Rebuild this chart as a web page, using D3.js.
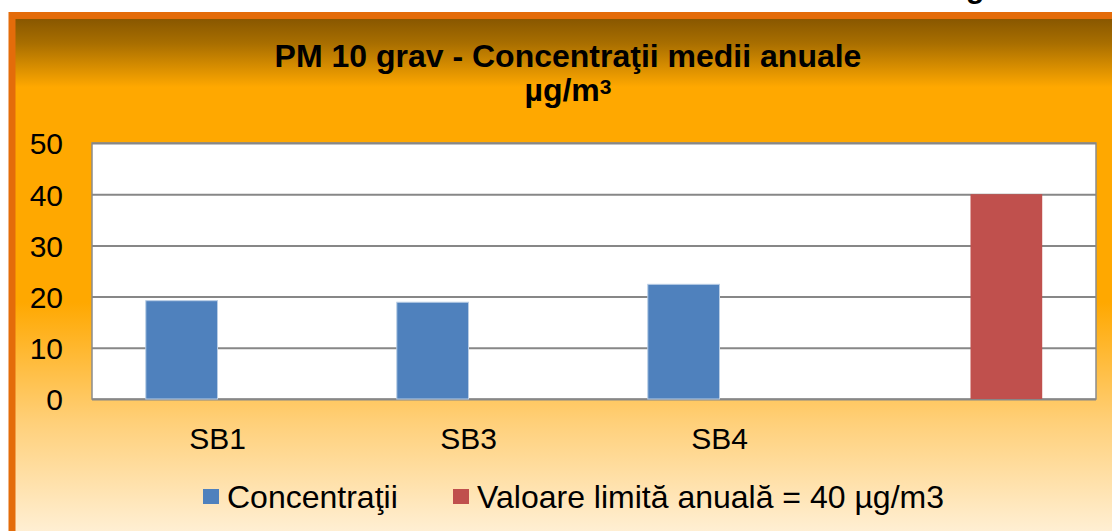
<!DOCTYPE html>
<html>
<head>
<meta charset="utf-8">
<script src="https://cdn.jsdelivr.net/npm/d3@7"></script>
<style>
  body { margin: 0; background: #ffffff; }
  svg text { font-family: "Liberation Sans", Arial, sans-serif; }
</style>
</head>
<body>
<div id="grafic"></div>
<script>
// date
const categorii = ["SB1", "SB3", "SB4", ""];
const serii = ["Concentraţii", "Valoare limită anuală = 40 µg/m3"];
const concentratii = [19.2, 18.9, 22.4, null];
const valoareLimita = [null, null, null, 40];
const tickuriY = [0, 10, 20, 30, 40, 50];
const culori = ["#4f81bd", "#c0504d"];

const W = 1112, H = 531;

const svg = d3.select("#grafic").append("svg")
    .attr("width", W)
    .attr("height", H);

// fundal cu gradient
const defs = svg.append("defs");
const grad = defs.append("linearGradient")
    .attr("id", "fundal")
    .attr("x1", 0).attr("y1", 0).attr("x2", 0).attr("y2", 1);
[[0, "#845400"], [0.05, "#a86e00"], [0.13, "#ffa800"], [0.52, "#ffa800"],
 [0.74, "#ffd07a"], [1, "#fff9f0"]].forEach(s => {
    grad.append("stop").attr("offset", s[0]).attr("stop-color", s[1]);
});

// bucata de text din pagina de deasupra (taiata si in original)
svg.append("text")
    .attr("x", 966).attr("y", -2)
    .style("font-weight", "bold")
    .style("font-size", "30px")
    .text("g");

svg.append("rect")
    .attr("x", 12).attr("y", 15.5)
    .attr("width", W + 20).attr("height", H + 20)
    .attr("fill", "url(#fundal)")
    .attr("stroke", "#e46c0a")
    .attr("stroke-width", 7);

// titlu
svg.append("text")
    .attr("x", 568).attr("y", 67)
    .attr("text-anchor", "middle")
    .style("font-weight", "bold")
    .style("font-size", "32px")
    .text("PM 10 grav - Concentraţii medii anuale");

const unitate = svg.append("text")
    .attr("x", 568).attr("y", 101)
    .attr("text-anchor", "middle")
    .style("font-weight", "bold")
    .style("font-size", "32px");
unitate.append("tspan").text("µg/m");
unitate.append("tspan").attr("dy", -7).style("font-size", "21px").text("3");

// zona graficului
const pStanga = 92, pDreapta = 1096, pSus = 143, pJos = 399;

const x = d3.scaleBand()
    .domain(categorii)
    .range([pStanga, pDreapta])
    .paddingInner(0)
    .paddingOuter(0);

const xSerie = d3.scaleBand()
    .domain(serii)
    .range([0, x.bandwidth()])
    .paddingInner(0)
    .paddingOuter(0.75);

const y = d3.scaleLinear()
    .domain([0, 50])
    .range([pJos, pSus]);

svg.append("rect")
    .attr("x", pStanga).attr("y", pSus)
    .attr("width", pDreapta - pStanga).attr("height", pJos - pSus)
    .attr("fill", "#ffffff")
    .attr("stroke", "#8c8c8c")
    .attr("stroke-width", 1.5);

// linii de grila
const grila = svg.append("g")
    .attr("transform", "translate(" + pStanga + ",0)")
    .call(d3.axisLeft(y).tickValues(tickuriY).tickSize(-(pDreapta - pStanga)).tickFormat(""));
grila.select(".domain").remove();
grila.selectAll("line")
    .attr("stroke", "#878787")
    .attr("stroke-width", 2);

// axa Y
const axaY = svg.append("g")
    .attr("transform", "translate(63,0)")
    .call(d3.axisLeft(y).tickValues(tickuriY).tickSize(0).tickPadding(0));
axaY.select(".domain").remove();
axaY.selectAll("text")
    .style("font-size", "30px")
    .style("font-family", "Liberation Sans, Arial, sans-serif")
    .attr("fill", "#000")
    .attr("dy", "0.36em");

// bare
const date = [];
categorii.forEach((c, i) => {
    date.push({ cat: c, serie: serii[0], val: concentratii[i] });
    date.push({ cat: c, serie: serii[1], val: valoareLimita[i] });
});

svg.append("g")
    .selectAll("rect")
    .data(date.filter(d => d.val !== null))
    .enter()
    .append("rect")
    .attr("x", d => x(d.cat) + xSerie(d.serie))
    .attr("y", d => y(d.val))
    .attr("width", xSerie.bandwidth())
    .attr("height", d => y(0) - y(d.val))
    .attr("fill", d => culori[serii.indexOf(d.serie)])
    .attr("stroke", d => d.serie === serii[0] ? "#b9cde5" : "none")
    .attr("stroke-width", 1);

// axa X (doar etichete)
const axaX = svg.append("g")
    .attr("transform", "translate(0," + pJos + ")")
    .call(d3.axisBottom(x).tickSize(0).tickPadding(0));
axaX.select(".domain").remove();
axaX.selectAll("text")
    .style("font-size", "30px")
    .style("font-family", "Liberation Sans, Arial, sans-serif")
    .attr("fill", "#000")
    .attr("dy", 0)
    .attr("y", 50);

// legenda
const legenda = svg.append("g");
const pozLegenda = [203, 453];
serii.forEach((s, i) => {
    legenda.append("rect")
        .attr("x", pozLegenda[i]).attr("y", 489)
        .attr("width", 16).attr("height", 15)
        .attr("fill", culori[i]);
    legenda.append("text")
        .attr("x", pozLegenda[i] + 24).attr("y", 508)
        .style("font-size", "32px")
        .text(s);
});
</script>
</body>
</html>
